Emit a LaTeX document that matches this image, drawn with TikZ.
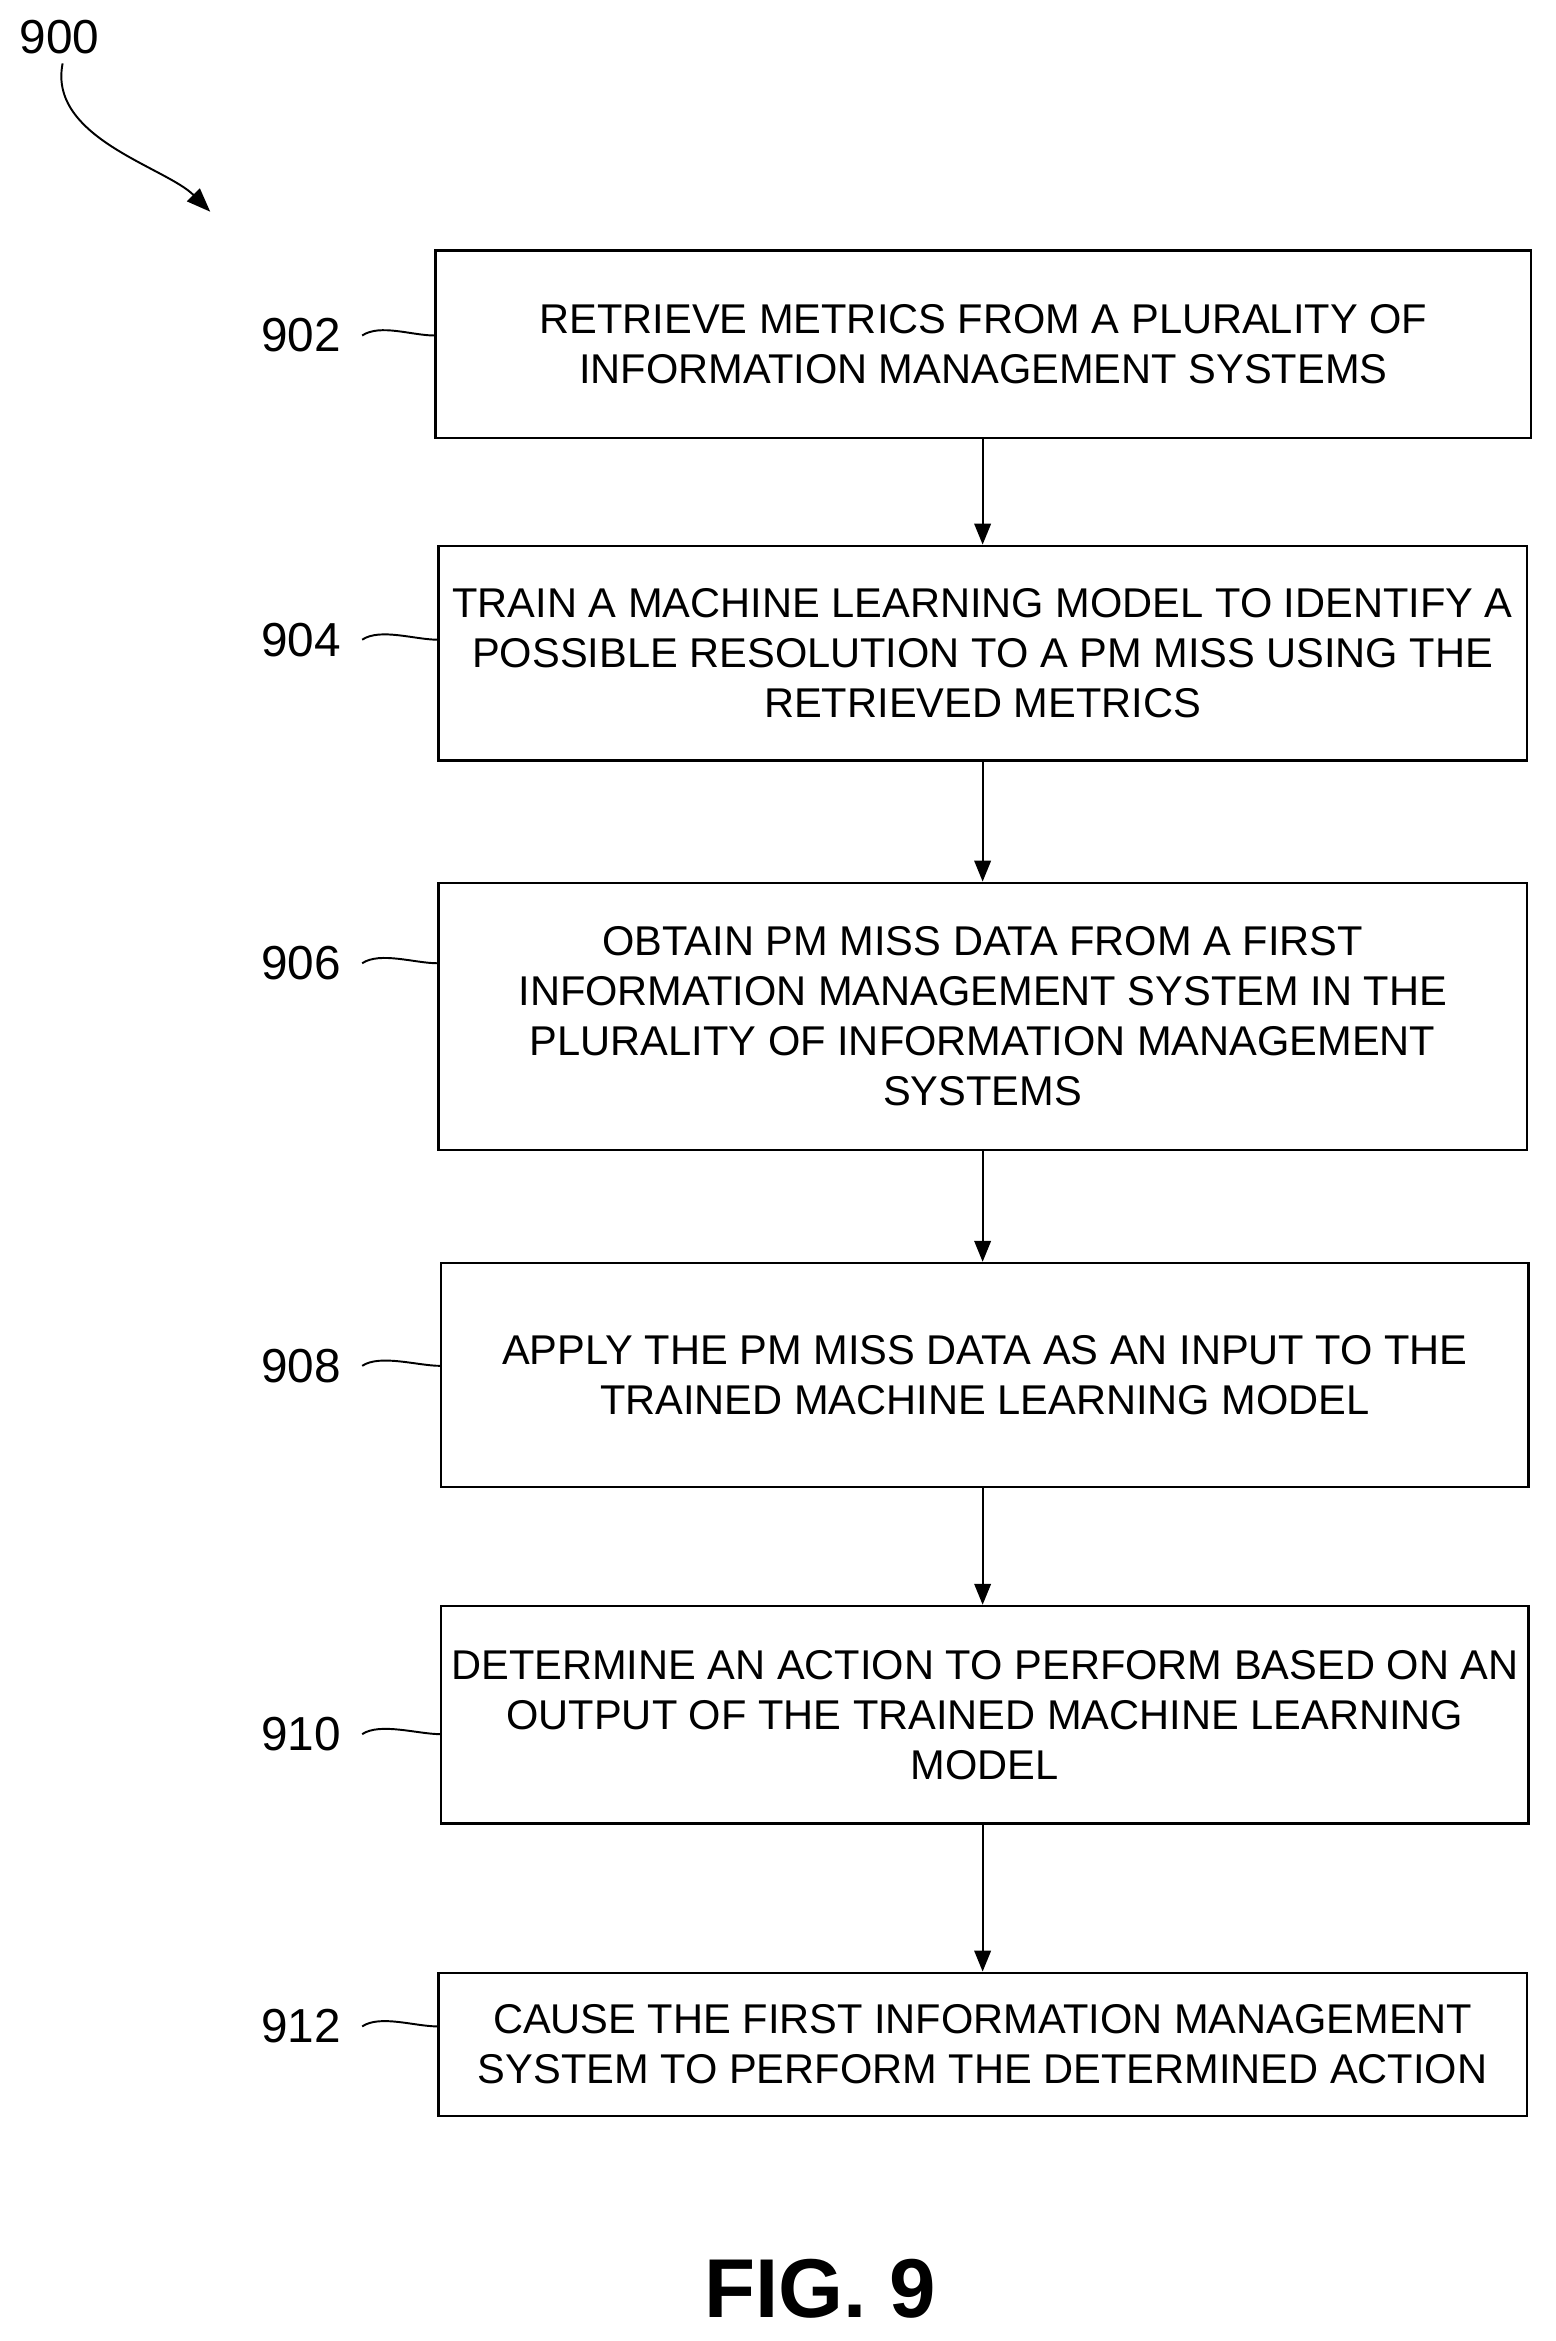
\documentclass[tikz,border=0pt]{standalone}
\usepackage{fontspec}
\setmainfont{Liberation Sans}
\usetikzlibrary{arrows.meta}
\begin{document}
\begin{tikzpicture}[x=1pt,y=-1pt,
  box/.style={draw,line width=1.5pt,align=center,font=\fontsize{27.9}{33.5}\selectfont,inner sep=0pt},
  lab/.style={font=\fontsize{32}{32}\selectfont,inner sep=2pt},
  arr/.style={line width=1.5pt,-{Triangle[length=14pt,width=11pt]}},
  tl/.style={line width=1.3pt}]
\useasboundingbox[fill=white] (0,0) rectangle (1043,1570);
\def\bx#1#2#3#4#5#6{\node[box,minimum width=#3pt-#2pt,minimum height=#5pt-#4pt] (b#1) at ({(#2+#3)/2},{(#4+#5)/2}) {#6};}
\bx{902}{292}{1027}{168}{294}{RETRIEVE METRICS FROM A PLURALITY OF\\INFORMATION MANAGEMENT SYSTEMS}
\bx{904}{294}{1024}{366}{510}{TRAIN A MACHINE LEARNING MODEL TO IDENTIFY A\\POSSIBLE RESOLUTION TO A PM MISS USING THE\\RETRIEVED METRICS}
\bx{906}{294}{1024}{592}{771}{OBTAIN PM MISS DATA FROM A FIRST\\INFORMATION MANAGEMENT SYSTEM IN THE\\PLURALITY OF INFORMATION MANAGEMENT\\SYSTEMS}
\bx{908}{296}{1025}{847}{997}{APPLY THE PM MISS DATA AS AN INPUT TO THE\\TRAINED MACHINE LEARNING MODEL}
\bx{910}{296}{1025}{1077}{1223}{DETERMINE AN ACTION TO PERFORM BASED ON AN\\OUTPUT OF THE TRAINED MACHINE LEARNING\\MODEL}
\bx{912}{294}{1024}{1323}{1419}{CAUSE THE FIRST INFORMATION MANAGEMENT\\SYSTEM TO PERFORM THE DETERMINED ACTION}
\foreach \n/\y in {902/225,904/429,906/646,908/916,910/1163,912/1359}{
  \node[lab] (l\n) at (202,\y) {\n};
  \draw[tl] (l\n.east) ++(12,0) coordinate (c\n) .. controls +(12,-8) and +(-15,0) .. (b\n.west |- c\n);
}
\foreach \a/\b in {902/904,904/906,906/908,908/910,910/912}{
  \draw[arr] (b\a.south -| 659,0) -- (b\b.north -| 659,0);
}
\node[lab] (l900) at (40,25) {900};
\coordinate (e900) at (141,142);
\draw[tl,-{Triangle[length=16pt,width=12pt]}] (l900.south) ++(2,4) .. controls +(-10,50) and +(-30,-30) .. (e900);
\node[font=\bfseries\fontsize{56}{56}\selectfont] (fig) at (550,1535) {FIG. 9};
\end{tikzpicture}
\end{document}
